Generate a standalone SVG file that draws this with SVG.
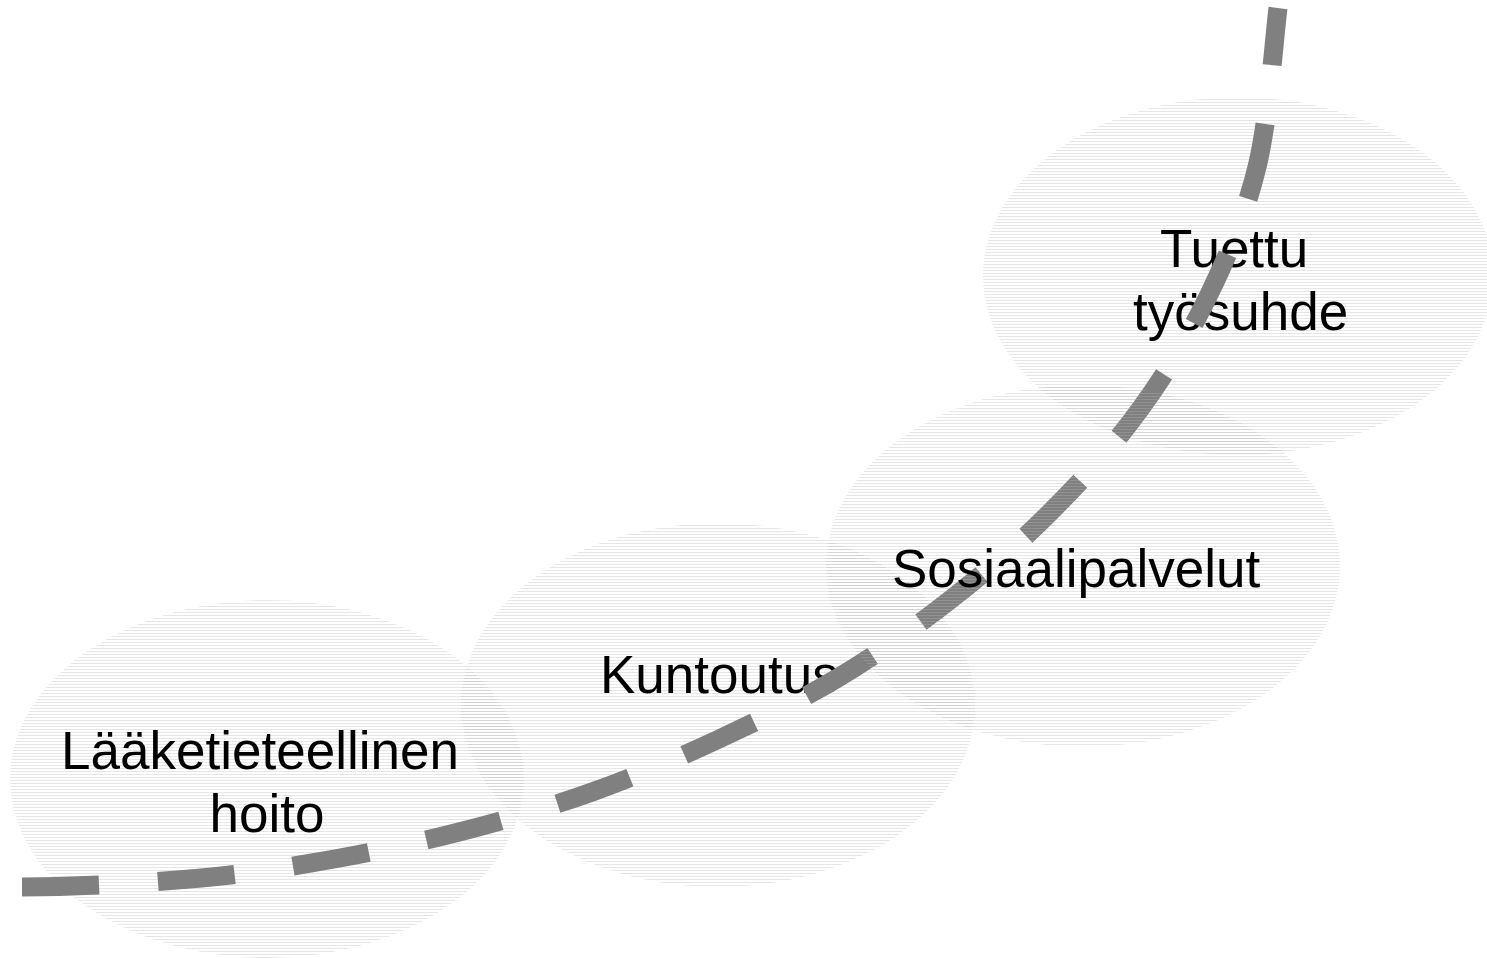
<svg xmlns="http://www.w3.org/2000/svg" width="1487" height="958" viewBox="0 0 1487 958">
<style>
.bub{fill:url(#stripes);stroke:none}
.lbl{font-family:"Liberation Sans",Arial,sans-serif;font-size:53px;fill:#000}
.path{fill:none;stroke:#808080;stroke-width:19;stroke-dasharray:77 59;stroke-linecap:butt}
</style>
<defs>
<pattern id="stripes" patternUnits="userSpaceOnUse" width="4" height="3">
<rect x="0" y="0" width="4" height="1" fill="#b4b4b4" fill-opacity="0.33"/>
</pattern>
</defs>
<rect width="1487" height="958" fill="#fff"/>
<g id="node-laaketieteellinen">
<ellipse class="bub" cx="267" cy="779" rx="257" ry="179"/>
<text class="lbl" x="260" y="769" text-anchor="middle">Lääketieteellinen</text>
<text class="lbl" x="267" y="832" text-anchor="middle">hoito</text>
</g>
<g id="node-kuntoutus">
<ellipse class="bub" cx="718" cy="705" rx="257" ry="182"/>
<text class="lbl" x="600" y="693">Kuntoutus</text>
</g>
<g id="node-tuettu">
<ellipse class="bub" cx="1238" cy="276" rx="255" ry="179"/>
<text class="lbl" x="1160" y="267">Tuettu</text>
<text class="lbl" x="1133" y="330">työsuhde</text>
</g>
<g id="connectors">
<path class="path" d="M22,887 C80,887 144.4,883.1 196,878.5 C247.6,873.9 287,867.4 331.5,859.5 C376,851.6 419.3,842.3 463,831 C506.7,819.7 551,806.75 593.5,791.5 C636,776.25 677.2,758.5 718,739.5 C758.8,720.5 799.8,700.75 838.5,677.5 C877.2,654.25 914.3,627.9 950,600 C985.7,572.1 1020.7,542 1052.5,510 C1084.3,478 1114.75,444.25 1141,408 C1167.25,371.75 1190.6,333 1210,292.5 C1229.4,252 1246.2,212.4 1257.5,165 C1268.8,117.6 1274.6,34.2 1278,8"/>
</g>
<g id="node-sosiaalipalvelut">
<ellipse class="bub" cx="1083" cy="566" rx="257" ry="181"/>
<text class="lbl" x="892" y="587">Sosiaalipalvelut</text>
</g>
</svg>
